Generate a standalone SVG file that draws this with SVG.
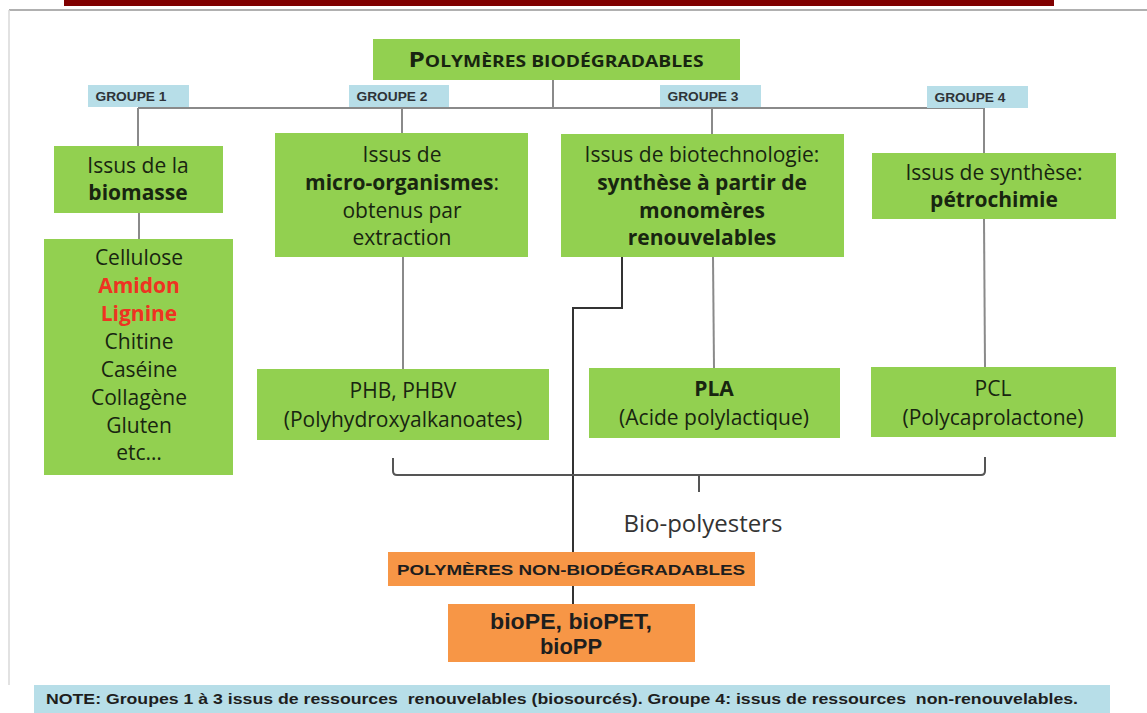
<svg xmlns="http://www.w3.org/2000/svg" width="1147" height="713" viewBox="0 0 1147 713">
<style>
.g{fill:#92d050}
.b{fill:#b7dee8}
.o{fill:#f79646}
.t{font-family:"Open Sans","Noto Sans",sans-serif;font-size:21px;fill:#182510;text-anchor:middle}
.bd{font-weight:bold}
.red{fill:#ee3322;font-weight:bold}
.grp{font-family:"Liberation Sans",Arial,sans-serif;font-weight:bold;font-size:12.5px;fill:#2e3338;text-anchor:middle}
.ar{font-family:"Liberation Sans",Arial,sans-serif;font-weight:bold;fill:#1e1e1e;text-anchor:middle}
.c{stroke:#8a8a8a;stroke-width:2;fill:none}
.dk{stroke:#333;stroke-width:2;fill:none}
</style>
<rect width="1147" height="713" fill="#fff"/>
<rect x="64" y="0" width="990" height="6" fill="#800000"/>
<line x1="9" y1="10" x2="1147" y2="10" stroke="#b0b0b0" stroke-width="2"/>
<line x1="9" y1="10" x2="9" y2="685" stroke="#d8d8d8" stroke-width="1.5"/>

<g id="connectors">
<line class="c" x1="553" y1="80" x2="553" y2="108"/>
<line class="c" x1="138" y1="108" x2="984" y2="108"/>
<line class="c" x1="138" y1="108" x2="138" y2="146"/>
<line class="c" x1="139" y1="213" x2="139" y2="239"/>
<line class="c" x1="402" y1="108" x2="402" y2="133"/>
<line class="c" x1="403" y1="257" x2="403" y2="369"/>
<line class="c" x1="712" y1="108" x2="712" y2="134"/>
<line class="c" x1="713" y1="257" x2="714" y2="368"/>
<line class="c" x1="984" y1="108" x2="984" y2="153"/>
<line class="c" x1="984" y1="219" x2="985" y2="367"/>
<path class="dk" d="M622 257 V308 H573 V552"/>
<path d="M393 458 V471 Q393 475 397 475 H981 Q985 475 985 471 V457 M699 475 V492" stroke="#555" stroke-width="2" fill="none"/>
<line class="dk" x1="573" y1="586" x2="573" y2="604"/>
</g>

<g id="top">
<rect class="g" x="373" y="39" width="367" height="41"/>
<text x="556" y="67" font-family="'Open Sans','Noto Sans',sans-serif" font-weight="bold" font-size="15.5" fill="#182510" text-anchor="middle" textLength="295" lengthAdjust="spacingAndGlyphs"><tspan font-size="21">P</tspan>OLYMÈRES BIODÉGRADABLES</text>
</g>

<g id="groupe1"><rect class="b" x="88" y="85" width="101" height="22"/><text class="grp" x="131" y="101" textLength="71" lengthAdjust="spacingAndGlyphs">GROUPE 1</text></g>
<g id="groupe2"><rect class="b" x="349" y="85" width="100" height="22"/><text class="grp" x="392" y="101" textLength="71" lengthAdjust="spacingAndGlyphs">GROUPE 2</text></g>
<g id="groupe3"><rect class="b" x="660" y="85" width="101" height="22"/><text class="grp" x="703" y="101" textLength="71" lengthAdjust="spacingAndGlyphs">GROUPE 3</text></g>
<g id="groupe4"><rect class="b" x="927" y="86" width="101" height="22"/><text class="grp" x="970" y="102" textLength="71" lengthAdjust="spacingAndGlyphs">GROUPE 4</text></g>

<g id="biomasse">
<rect class="g" x="54" y="146" width="169" height="67"/>
<text class="t" x="138" y="173">Issus de la</text>
<text class="t bd" x="138" y="200">biomasse</text>
</g>
<g id="liste">
<rect class="g" x="44" y="239" width="189" height="236"/>
<text class="t" x="139" y="265">Cellulose</text>
<text class="t red" x="139" y="293">Amidon</text>
<text class="t red" x="139" y="321">Lignine</text>
<text class="t" x="139" y="349">Chitine</text>
<text class="t" x="139" y="377">Caséine</text>
<text class="t" x="139" y="405">Collagène</text>
<text class="t" x="139" y="433">Gluten</text>
<text class="t" x="139" y="460">etc…</text>
</g>

<g id="micro">
<rect class="g" x="275" y="133" width="253" height="124"/>
<text class="t" x="402" y="162">Issus de</text>
<text class="t" x="402" y="190"><tspan class="bd">micro-organismes</tspan>:</text>
<text class="t" x="402" y="218">obtenus par</text>
<text class="t" x="402" y="245">extraction</text>
</g>
<g id="biotech">
<rect class="g" x="561" y="134" width="283" height="123"/>
<text class="t" x="702" y="162">Issus de biotechnologie:</text>
<text class="t bd" x="702" y="190">synthèse à partir de</text>
<text class="t bd" x="702" y="218">monomères</text>
<text class="t bd" x="702" y="245">renouvelables</text>
</g>
<g id="synthese">
<rect class="g" x="872" y="153" width="244" height="66"/>
<text class="t" x="994" y="180">Issus de synthèse:</text>
<text class="t bd" x="994" y="207">pétrochimie</text>
</g>

<g id="phb">
<rect class="g" x="257" y="369" width="292" height="71"/>
<text class="t" x="403" y="398">PHB, PHBV</text>
<text class="t" x="403" y="427">(Polyhydroxyalkanoates)</text>
</g>
<g id="pla">
<rect class="g" x="589" y="368" width="251" height="70"/>
<text class="t bd" x="714" y="396">PLA</text>
<text class="t" x="714" y="425">(Acide polylactique)</text>
</g>
<g id="pcl">
<rect class="g" x="871" y="367" width="245" height="70"/>
<text class="t" x="993" y="396">PCL</text>
<text class="t" x="993" y="425">(Polycaprolactone)</text>
</g>

<text x="703" y="532" font-family="'Open Sans','Noto Sans',sans-serif" font-size="24" fill="#333" text-anchor="middle">Bio-polyesters</text>

<g id="nonbio">
<rect class="o" x="388" y="552" width="367" height="34"/>
<text class="ar" x="571" y="575" font-size="15" textLength="348" lengthAdjust="spacingAndGlyphs">POLYMÈRES NON-BIODÉGRADABLES</text>
</g>
<g id="biope">
<rect class="o" x="448" y="604" width="247" height="58"/>
<text class="ar" x="571" y="629" font-size="22" textLength="162" lengthAdjust="spacingAndGlyphs">bioPE, bioPET,</text>
<text class="ar" x="571" y="654" font-size="22" textLength="62" lengthAdjust="spacingAndGlyphs">bioPP</text>
</g>

<g id="note">
<rect class="b" x="34" y="685" width="1076" height="28"/>
<text class="ar" x="562" y="704" font-size="15" xml:space="preserve" textLength="1032" lengthAdjust="spacingAndGlyphs">NOTE: Groupes 1 à 3 issus de ressources  renouvelables (biosourcés). Groupe 4: issus de ressources  non-renouvelables.</text>
</g>
</svg>
